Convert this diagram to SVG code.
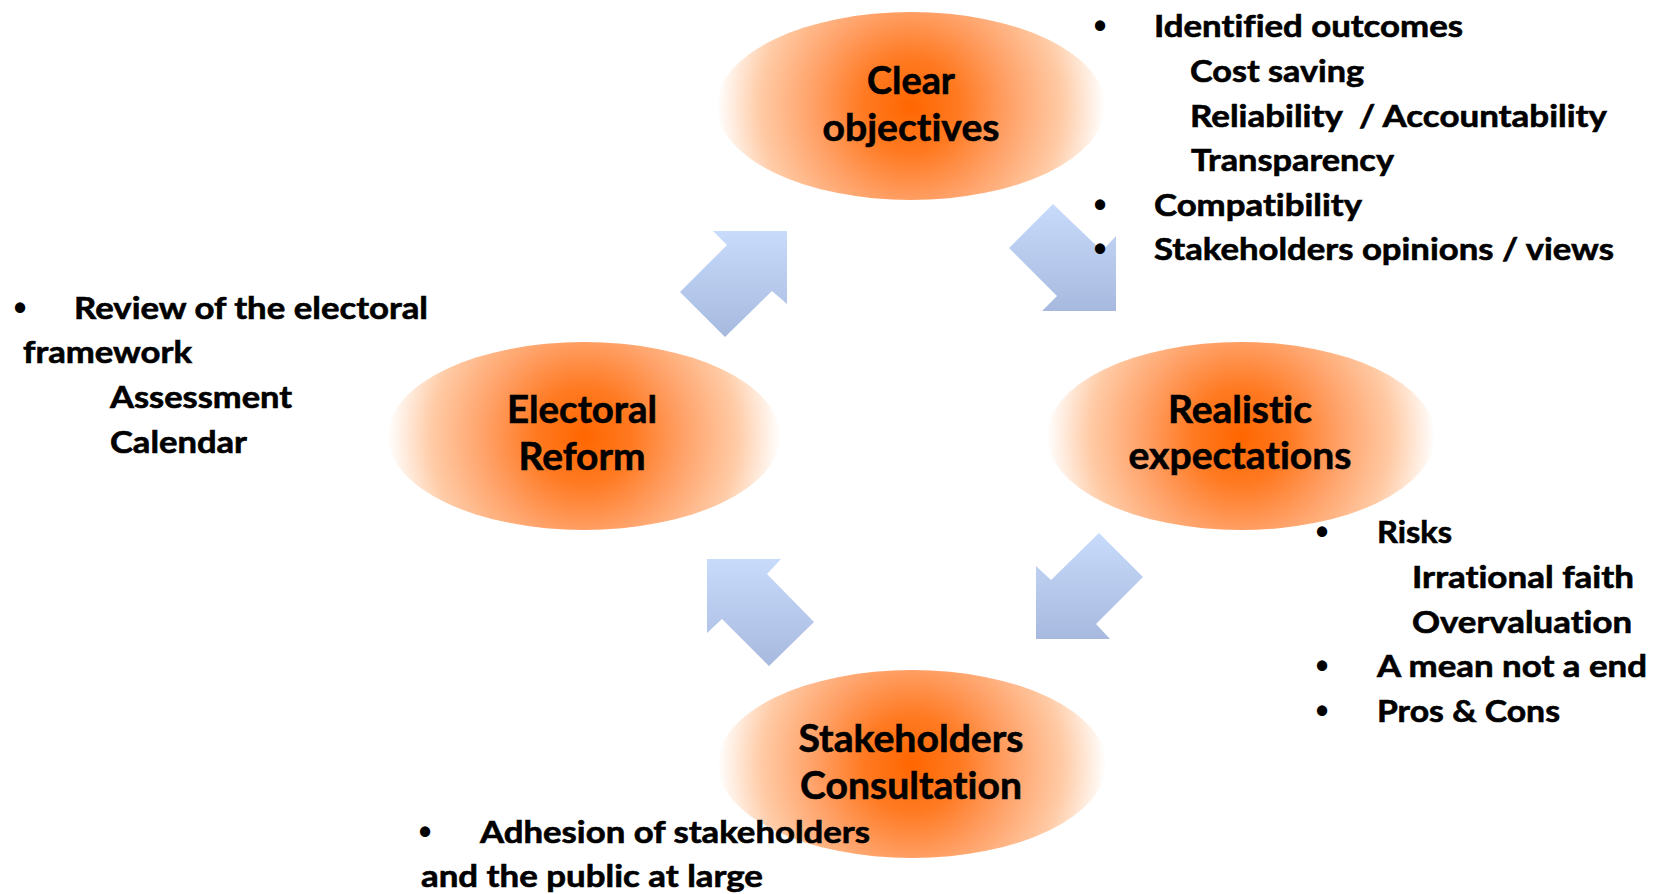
<svg xmlns="http://www.w3.org/2000/svg" width="1657" height="894" viewBox="0 0 1657 894">
  <style>
    text { font-family: "Lato", "Open Sans", "Liberation Sans", sans-serif; font-weight: bold; fill: #000; stroke: #000; stroke-width: 0.6px; font-variant-ligatures: none; font-feature-settings: "liga" 0, "clig" 0; }
    .lbl { font-size: 38px; text-anchor: middle; }
    .txt { font-size: 30px; }
    .bul { font-family: "Liberation Sans", sans-serif; font-size: 36px; text-anchor: middle; stroke: none; }
    .arrow { fill: url(#arrowGrad); }
    .blob { fill: url(#blobGrad); }
  </style>
  <defs>
    <radialGradient id="blobGrad" cx="0.5" cy="0.5" r="0.5" gradientTransform="translate(0.5,0.5) scale(1,2.05) translate(-0.5,-0.5)">
      <stop offset="0" stop-color="#ff6600"/>
      <stop offset="0.25" stop-color="#ff7a22"/>
      <stop offset="0.5" stop-color="#ffa066"/>
      <stop offset="0.78" stop-color="#ffcba6"/>
      <stop offset="1" stop-color="#ffffff"/>
    </radialGradient>
    <linearGradient id="arrowGrad" x1="0" y1="0" x2="0" y2="1">
      <stop offset="0" stop-color="#c9dbfb"/>
      <stop offset="1" stop-color="#a7b9de"/>
    </linearGradient>
  </defs>
  <rect width="1657" height="894" fill="#ffffff"/>

  <g id="node-clear-objectives">
    <ellipse class="blob" cx="911" cy="106" rx="194" ry="94"/>
    <text class="lbl" x="911" y="94" textLength="88" lengthAdjust="spacingAndGlyphs">Clear</text>
    <text class="lbl" x="911" y="141" textLength="177" lengthAdjust="spacingAndGlyphs">objectives</text>
  </g>

  <g id="node-electoral-reform">
    <ellipse class="blob" cx="584" cy="436" rx="196" ry="94"/>
    <text class="lbl" x="582" y="423" textLength="150" lengthAdjust="spacingAndGlyphs">Electoral</text>
    <text class="lbl" x="582" y="470" textLength="127" lengthAdjust="spacingAndGlyphs">Reform</text>
  </g>

  <g id="node-realistic-expectations">
    <ellipse class="blob" cx="1241" cy="436" rx="194" ry="94"/>
    <text class="lbl" x="1240" y="423" textLength="144" lengthAdjust="spacingAndGlyphs">Realistic</text>
    <text class="lbl" x="1240" y="469" textLength="223" lengthAdjust="spacingAndGlyphs">expectations</text>
  </g>

  <g id="node-stakeholders-consultation">
    <ellipse class="blob" cx="912" cy="764" rx="194" ry="94"/>
    <text class="lbl" x="911" y="752" textLength="225" lengthAdjust="spacingAndGlyphs">Stakeholders</text>
    <text class="lbl" x="911" y="799" textLength="222" lengthAdjust="spacingAndGlyphs">Consultation</text>
  </g>

  <g id="connectors">
    <polygon class="arrow" points="713,231 787,231 787,304 772,291 725,337 680,292 727,245"/>
    <polygon class="arrow" points="1053,204 1102,251 1116,236 1116,311 1042,311 1057,296 1009,248"/>
    <polygon class="arrow" points="1099,533 1143,577 1096,624 1110,639 1036,639 1036,566 1051,580"/>
    <polygon class="arrow" points="707,559 781,559 767,574 814,622 769,666 722,619 707,633"/>
  </g>

  <g id="notes-clear-objectives">
    <text class="bul" x="1100" y="38">•</text>
    <text class="txt" x="1154" y="37" textLength="309" lengthAdjust="spacingAndGlyphs">Identified outcomes</text>
    <text class="txt" x="1190" y="82" textLength="174" lengthAdjust="spacingAndGlyphs">Cost saving</text>
    <text class="txt" x="1190" y="127" textLength="417" lengthAdjust="spacingAndGlyphs" style="white-space:pre">Reliability  / Accountability</text>
    <text class="txt" x="1191" y="171" textLength="203" lengthAdjust="spacingAndGlyphs">Transparency</text>
    <text class="bul" x="1100" y="217">•</text>
    <text class="txt" x="1154" y="216" textLength="208" lengthAdjust="spacingAndGlyphs">Compatibility</text>
    <text class="bul" x="1100" y="261">•</text>
    <text class="txt" x="1154" y="260" textLength="460" lengthAdjust="spacingAndGlyphs">Stakeholders opinions / views</text>
  </g>

  <g id="notes-electoral-reform">
    <text class="bul" x="20" y="320">•</text>
    <text class="txt" x="74" y="319" textLength="354" lengthAdjust="spacingAndGlyphs">Review of the electoral</text>
    <text class="txt" x="23" y="363" textLength="169" lengthAdjust="spacingAndGlyphs">framework</text>
    <text class="txt" x="110" y="408" textLength="182" lengthAdjust="spacingAndGlyphs">Assessment</text>
    <text class="txt" x="110" y="453" textLength="137" lengthAdjust="spacingAndGlyphs">Calendar</text>
  </g>

  <g id="notes-realistic-expectations">
    <text class="bul" x="1322" y="544">•</text>
    <text class="txt" x="1377" y="543" textLength="75" lengthAdjust="spacingAndGlyphs">Risks</text>
    <text class="txt" x="1412" y="588" textLength="222" lengthAdjust="spacingAndGlyphs">Irrational faith</text>
    <text class="txt" x="1412" y="633" textLength="220" lengthAdjust="spacingAndGlyphs">Overvaluation</text>
    <text class="bul" x="1322" y="678">•</text>
    <text class="txt" x="1377" y="677" textLength="270" lengthAdjust="spacingAndGlyphs">A mean not a end</text>
    <text class="bul" x="1322" y="723">•</text>
    <text class="txt" x="1377" y="722" textLength="183" lengthAdjust="spacingAndGlyphs">Pros &amp; Cons</text>
  </g>

  <g id="notes-stakeholders-consultation">
    <text class="bul" x="425" y="844">•</text>
    <text class="txt" x="480" y="843" textLength="390" lengthAdjust="spacingAndGlyphs">Adhesion of stakeholders</text>
    <text class="txt" x="421" y="887" textLength="342" lengthAdjust="spacingAndGlyphs">and the public at large</text>
  </g>
</svg>
